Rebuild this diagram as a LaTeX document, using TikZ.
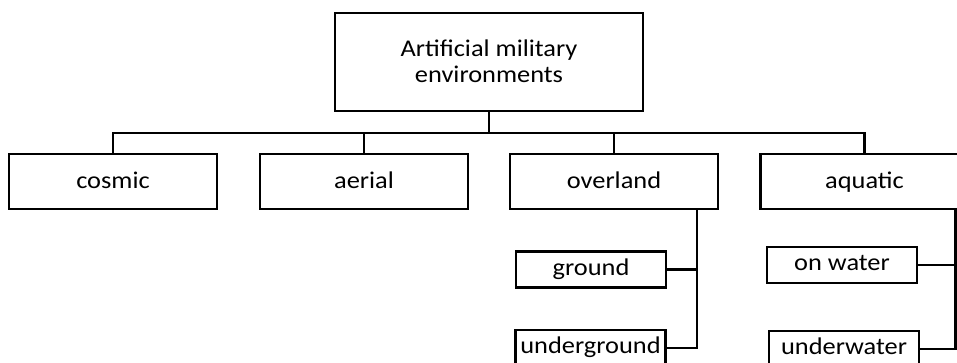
\documentclass[tikz,border=0pt]{standalone}
\usepackage{fontspec}
\setmainfont{Carlito}[FakeStretch=1.1]
\begin{document}
\begin{tikzpicture}[x=1pt,y=-1pt,
  box/.style={draw=black,line width=2.6pt,fill=white,inner sep=0pt,align=center,
    font=\fontsize{24}{26}\selectfont},
  big/.style={box,minimum width=308pt,minimum height=98pt,text height=44pt,text depth=4pt},
  mid/.style={box,minimum width=208pt,minimum height=55pt,text height=18.5pt,text depth=5pt},
  small/.style={box,minimum width=150pt,minimum height=36pt,text height=16pt,text depth=5pt},
  link/.style={draw=black,line width=2.6pt}]
\useasboundingbox (0,0) rectangle (957,362);
\begin{scope}
\clip (0,0) rectangle (957,362);
\node[big] (top) at (489,62) {Artificial military\\environments};
\node[mid] (cosmic) at (113,181.5) {cosmic};
\node[mid] (aerial) at (364,181.5) {aerial};
\node[mid] (overland) at (614,181.5) {overland};
\node[mid] (aquatic) at (864.5,181.5) {aquatic};
\node[small] (ground) at (591,269.5) {ground};
\node[small] (underground) at (590.5,348) {underground};
\node[small] (onwater) at (842,265) {on water};
\node[small] (underwater) at (844,349) {underwater};
\coordinate (bus) at (489,133);
\coordinate (ov) at (697,0);
\coordinate (aq) at (955.5,0);
\draw[link] (top.south) -- (bus);
\draw[link] (cosmic.north) |- (bus) -| (aquatic.north);
\draw[link] (aerial.north) -- (aerial.north |- bus);
\draw[link] (overland.north) -- (overland.north |- bus);
\draw[link] (overland.south -| ov) |- (underground.east);
\draw[link] (ground.east) -- (ground.east -| ov);
\draw[link] (aquatic.south -| aq) |- (underwater.east);
\draw[link] (onwater.east) -- (onwater.east -| aq);
\end{scope}
\end{tikzpicture}
\end{document}
